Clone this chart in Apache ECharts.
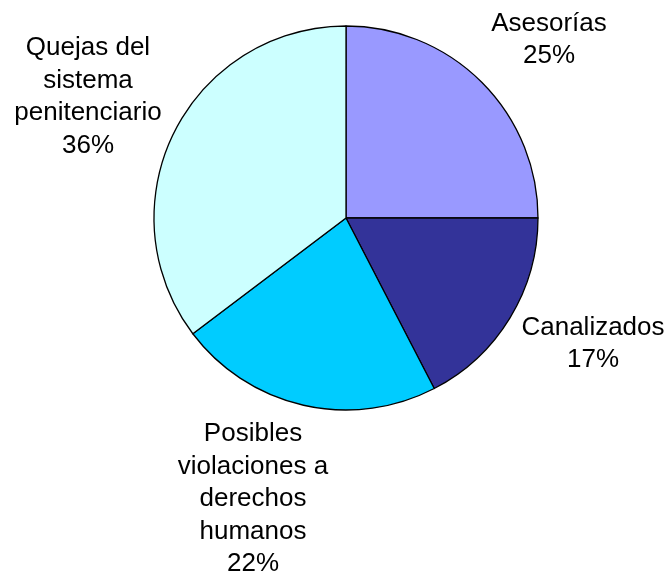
<!DOCTYPE html>
<html>
<head>
<meta charset="utf-8">
<script src="https://cdn.jsdelivr.net/npm/echarts@6/dist/echarts.min.js"></script>
<style>
  html, body { margin: 0; padding: 0; background: #fff; }
  #chart { width: 666px; height: 578px; }
</style>
</head>
<body>
<div id="chart"></div>
<script>
const categories = [
  'Asesorías',
  'Canalizados',
  'Posibles\nviolaciones a\nderechos\nhumanos',
  'Quejas del\nsistema\npenitenciario'
]
const values = [25.0, 17.4, 22.3, 35.3]
// percentages as printed on the chart
const percentLabels = ['25%', '17%', '22%', '36%']
const colors = ['#9999ff', '#333399', '#00ccff', '#ccffff']
// where each label block is centred (layout only)
const labelPos = [[549, 40], [593, 344], [253, 499], [88, 97]]

let chart = echarts.init(document.getElementById('chart'))
chart.setOption({
  animation: false,
  color: colors,
  series: [
    {
      type: 'pie',
      center: [346, 218],
      radius: 192,
      startAngle: 90,
      clockwise: true,
      itemStyle: {
        borderColor: '#000',
        borderWidth: 1.3
      },
      label: {
        show: true,
        position: 'outside',
        formatter: p => p.name + '\n' + percentLabels[p.dataIndex],
        fontFamily: 'Liberation Sans, Arial, sans-serif',
        fontSize: 26,
        lineHeight: 32.5,
        color: '#000',
        overflow: 'none'
      },
      labelLine: {
        show: false
      },
      labelLayout: function (params) {
        const p = labelPos[params.dataIndex]
        return {
          x: p[0],
          y: p[1],
          align: 'center',
          verticalAlign: 'middle'
        }
      },
      data: categories.map((name, i) => ({ name: name, value: values[i] }))
    }
  ]
})
</script>
</body>
</html>
